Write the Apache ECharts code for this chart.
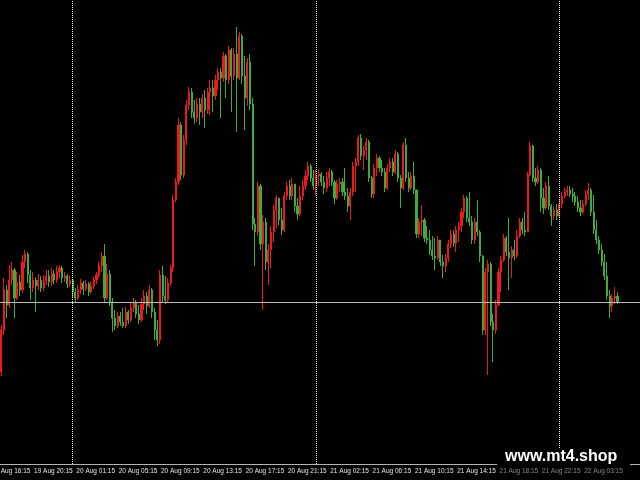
<!DOCTYPE html>
<html><head><meta charset="utf-8">
<script src="https://cdn.jsdelivr.net/npm/echarts@6/dist/echarts.min.js"></script>
<style>html,body{margin:0;padding:0;background:#000}#c{width:640px;height:480px}</style>
</head><body><div id="c"></div>
<script>
// M15 price data (arbitrary price units), open of each bar = previous close
const firstOpen = 92;
const closes = [
134,174,159,184,194,166,182,174,202,210,
189,176,184,178,184,176,183,188,182,190,
184,192,196,186,188,180,184,172,166,174,
181,175,180,172,178,184,189,198,208,166,
190,162,146,138,148,142,138,152,144,156,
162,150,144,160,168,158,174,152,134,124,
189,168,164,181,196,264,282,339,289,324,
359,372,352,346,360,352,366,354,372,376,
368,384,392,386,408,384,414,388,410,386,
428,388,366,402,360,240,232,278,220,242,
202,214,232,254,266,244,234,268,278,268,
280,258,250,268,278,288,298,286,278,288,
290,282,276,286,292,282,266,280,282,272,
268,258,272,298,302,326,308,314,322,286,
270,296,306,296,292,276,296,302,292,310,
286,276,319,286,276,288,274,230,242,244,
226,224,214,208,206,224,202,198,206,220,
230,221,234,238,252,266,246,242,224,242,
232,208,134,192,200,142,134,159,192,204,
226,212,206,214,208,228,242,234,232,289,
318,286,282,294,266,256,278,258,248,254,
248,260,268,272,274,270,268,262,256,252,
260,270,274,252,234,224,214,202,188,168,
158,166,168,162];
const highs = [
139,186,179,199,202,196,192,189,209,214,
212,194,192,187,190,188,189,194,194,196,
194,198,199,198,192,190,188,185,176,179,
185,183,184,182,183,187,192,202,212,220,
200,194,166,154,152,152,156,157,154,162,
166,164,159,166,174,172,179,176,156,144,
194,198,188,186,199,269,286,346,342,329,
364,377,376,364,366,366,370,374,376,384,
384,389,396,396,412,410,418,416,416,437,
432,430,408,406,410,366,246,282,280,249,
246,220,238,259,269,266,256,272,282,284,
286,280,266,278,284,294,302,300,294,294,
294,292,288,292,296,294,284,284,286,286,
296,276,276,302,306,329,330,318,326,324,
288,300,310,308,304,296,300,306,306,314,
312,289,322,326,292,292,302,274,246,259,
246,238,234,228,226,228,224,209,210,224,
234,234,238,242,256,269,268,272,248,246,
264,234,209,196,204,202,150,164,196,208,
230,228,246,218,224,234,246,246,252,292,
322,319,296,298,296,276,282,288,260,258,
260,264,272,276,278,278,276,272,268,264,
264,274,281,276,269,244,228,220,210,202,
174,170,177,172];
const lows = [
88,129,146,156,179,146,164,168,171,196,
181,164,172,152,174,172,173,179,177,178,
180,181,186,181,182,176,177,166,162,164,
170,169,173,168,170,175,180,186,192,162,
164,158,132,134,136,138,136,136,140,142,
152,146,140,142,154,150,156,146,124,118,
120,162,160,162,178,192,262,279,284,286,
319,354,346,340,342,339,346,336,350,349,
352,364,374,346,382,366,380,352,384,332,
384,380,334,358,354,234,198,228,214,154,
194,179,196,222,236,239,229,232,264,264,
264,252,244,248,264,274,284,282,274,269,
278,278,270,272,278,278,260,264,272,268,
264,252,244,268,272,298,304,294,304,282,
266,266,288,292,288,272,274,292,288,290,
282,256,274,282,272,274,270,226,226,228,
222,220,209,204,194,204,198,186,192,202,
216,217,212,222,232,246,242,238,220,220,
228,202,129,129,89,138,102,130,158,172,
202,208,174,186,204,206,226,230,228,232,
288,282,278,280,252,250,254,254,238,244,
244,246,256,266,268,267,262,258,252,248,
250,258,264,248,230,220,210,198,184,164,
146,152,160,160];
// first label belongs to a bar 4 bars before the visible window
const firstTickLabel = '19 Aug 16:15', firstTickBarsBefore = 4;
const tickLabels = ['19 Aug 20:15','20 Aug 01:15','20 Aug 05:15','20 Aug 09:15',
  '20 Aug 13:15','20 Aug 17:15','20 Aug 21:15','21 Aug 02:15','21 Aug 06:15','21 Aug 10:15',
  '21 Aug 14:15','21 Aug 18:15','21 Aug 22:15','22 Aug 03:15'];
const watermark = 'www.mt4.shop';

// time axis: M15 bars, session closed 00:00-01:00
const tailBars = 8;
function makeCategories(n) {
  const out = []; let day = 19, m = 17 * 60 + 15;
  for (let i = 0; i < n; i++) {
    const hh = String(Math.floor(m / 60)).padStart(2, '0'), mm = String(m % 60).padStart(2, '0');
    out.push(day + ' Aug ' + hh + ':' + mm);
    m += 15; if (m >= 1440) { m -= 1440; day++; } if (m < 60) m = 60;
  }
  return out;
}
const nCat = closes.length + tailBars;
const categories = makeCategories(nCat);
const candleData = closes.map((c, i) => [i ? closes[i - 1] : firstOpen, c, lows[i], highs[i]]);
for (let i = 0; i < tailBars; i++) candleData.push('-');
const separators = categories.filter(c => c.endsWith(' 01:00'));
const tickSet = new Set(tickLabels);

const RED = '#f01818', GREEN = '#3aae3a';
const LABEL = { color: '#e4e4e4', fontSize: 6.5, fontFamily: 'Liberation Sans Narrow, Liberation Sans, sans-serif' };
const chart = echarts.init(document.getElementById('c'));
chart.setOption({
  animation: false,
  backgroundColor: '#000',
  grid: { left: 0, right: 0, top: 0, bottom: 16 },
  xAxis: {
    type: 'category', data: categories,
    axisLine: { lineStyle: { color: '#b4b4b4', width: 1 } },
    axisTick: { alignWithLabel: true, length: 3, lineStyle: { color: '#b4b4b4' },
      interval: (i, v) => tickSet.has(v) },
    axisLabel: Object.assign({ interval: (i, v) => tickSet.has(v), align: 'left', margin: 4, padding: [0, 0, 0, 1] }, LABEL),
    splitLine: { show: false }
  },
  yAxis: { type: 'value', min: 0, max: 464, show: false, splitLine: { show: false } },
  series: [{
    type: 'candlestick', data: candleData, barWidth: 1.6,
    itemStyle: { color: RED, color0: GREEN, borderColor: RED, borderColor0: GREEN, borderWidth: 1 },
    markLine: {
      silent: true, symbol: 'none', label: { show: false }, animation: false,
      data: separators.map(c => ({ xAxis: c, lineStyle: { color: '#f0f0f0', type: [1, 1], width: 1 } }))
        .concat([{ yAxis: closes[closes.length - 1], lineStyle: { color: '#b8b8b8', type: 'solid', width: 1 } }])
    }
  }]
});
// pixel position of the off-window first tick, from the axis scale
const x0 = chart.convertToPixel({ xAxisIndex: 0 }, categories[0]);
const x1 = chart.convertToPixel({ xAxisIndex: 0 }, categories[1]);
const tx = x0 - firstTickBarsBefore * (x1 - x0);
const axisY = chart.convertToPixel({ yAxisIndex: 0 }, 0);
chart.setOption({
  graphic: [
    { type: 'text', z: 50, style: { text: firstTickLabel, x: tx + 1, y: axisY + 4, fill: LABEL.color,
      font: LABEL.fontSize + 'px ' + LABEL.fontFamily, verticalAlign: 'top', align: 'left' } },
    { type: 'rect', z: 100, shape: { x: 497, y: 449, width: 133, height: 18 }, style: { fill: '#000' } },
    { type: 'rect', z: 100, shape: { x: 497, y: 467, width: 133, height: 13 }, style: { fill: 'rgba(0,0,0,0.45)' } },
    { type: 'text', z: 101, style: { text: watermark, x: 505, y: 457, fill: '#fff',
      font: 'bold 16px "Liberation Sans", Arial, sans-serif', verticalAlign: 'middle', align: 'left' } }
  ]
});
</script></body></html>
